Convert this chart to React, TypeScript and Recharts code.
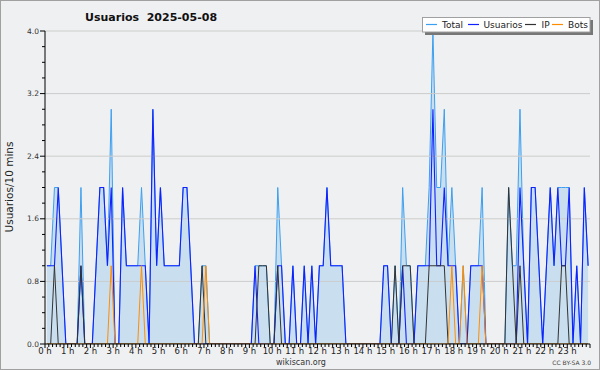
import React from "react";
import { ComposedChart, Area, Line, XAxis, YAxis, ReferenceLine } from "recharts";

// 10-minute slots, 144 per day
const total = [
  1,1,2,2,1,0,0,0,0,2, 0,0,0,1,2,2,1,3,0,0, 2,1,1,1,1,2,1,0,3,1, 2,1,1,1,1,1,2,2,1,0,
  0,1,1,0,0,0,0,0,0,0, 0,0,0,0,0,1,1,1,1,0, 0,2,1,0,0,1,0,0,1,0, 1,0,1,1,2,1,1,1,1,0,
  0,0,0,0,0,0,0,0,0,1, 1,0,1,0,2,1,1,0,1,1, 1,2,4,2,2,3,1,2,1,0, 1,0,1,1,1,2,0,0,0,0,
  0,0,2,1,1,3,1,0,2,2, 1,0,1,2,1,2,2,2,2,0, 1,0,2,1,
];
const usuarios = [
  1,1,1,2,1,0,0,0,0,1, 0,0,0,1,2,2,1,2,0,0, 2,1,1,1,1,1,1,0,3,1, 2,1,1,1,1,1,2,2,1,0,
  0,0,0,0,0,0,0,0,0,0, 0,0,0,0,0,1,0,0,0,0, 0,1,1,0,0,1,0,0,1,0, 1,0,1,1,2,1,1,1,1,0,
  0,0,0,0,0,0,0,0,0,1, 1,0,0,0,1,0,0,0,1,1, 1,1,3,1,1,2,1,1,1,0, 0,0,1,1,1,1,0,0,0,0,
  0,0,0,0,0,2,1,0,2,2, 1,0,1,2,1,2,1,1,2,0, 1,0,2,1,
];
const ip = [
  0,0,1,0,0,0,0,0,0,1, 0,0,0,0,0,0,0,0,0,0, 0,0,0,0,0,0,0,0,0,0, 0,0,0,0,0,0,0,0,0,0,
  0,1,0,0,0,0,0,0,0,0, 0,0,0,0,0,0,1,1,1,0, 0,1,0,0,0,0,0,0,0,0, 0,0,0,0,0,0,0,0,0,0,
  0,0,0,0,0,0,0,0,0,0, 0,0,1,0,1,1,1,0,0,0, 0,1,1,1,1,1,0,0,0,0, 0,0,0,0,0,0,0,0,0,0,
  0,0,2,1,0,1,0,0,0,0, 0,0,0,0,0,0,1,1,0,0, 0,0,0,0,
];
const bots = [
  0,0,0,0,0,0,0,0,0,0, 0,0,0,0,0,0,0,1,0,0, 0,0,0,0,0,1,0,0,0,0, 0,0,0,0,0,0,0,0,0,0,
  0,0,1,0,0,0,0,0,0,0, 0,0,0,0,0,0,0,0,0,0, 0,0,0,0,0,0,0,0,0,0, 0,0,0,0,0,0,0,0,0,0,
  0,0,0,0,0,0,0,0,0,0, 0,0,0,0,0,0,0,0,0,0, 0,0,0,0,0,0,0,1,0,0, 1,0,0,0,0,1,0,0,0,0,
  0,0,0,0,0,0,0,0,0,0, 0,0,0,0,0,0,0,0,0,0, 0,0,0,0,
];

const hourLabels = [
  "0 h","1 h","2 h","3 h","4 h","5 h","6 h","7 h","8 h","9 h","10 h","11 h",
  "12 h","13 h","14 h","15 h","16 h","17 h","18 h","19 h","20 h","21 h","22 h","23 h",
];
const yGridValues = [0.8, 1.6, 2.4, 3.2, 4.0];
const yTickLabels = ["0.0", "0.8", "1.6", "2.4", "3.2", "4.0"];

const rows = total.map((t, i) => ({
  x: i + 0.5,
  total: t,
  usuarios: usuarios[i],
  ip: ip[i],
  bots: bots[i],
}));

const xTicks = Array.from({ length: 145 }, (_, i) => i);
const yTicks = Array.from({ length: 21 }, (_, i) => i / 5);

const FONT = "DejaVu Sans";

const XTick = (props: any) => {
  const { x, y, payload } = props;
  const v = Math.round(payload.value);
  const isHour = v % 6 === 0;
  const h = v / 6;
  return (
    <g>
      <line x1={x} x2={x} y1={y} y2={y + (isHour ? 4 : 3)} stroke="#000" strokeWidth={1} />
      {isHour && h < 24 ? (
        <text x={x} y={y + 10} textAnchor="middle" fontSize={8.5} fontFamily={FONT} fill="#222">
          {hourLabels[h]}
        </text>
      ) : null}
    </g>
  );
};

const YTick = (props: any) => {
  const { x, y, payload } = props;
  const k = Math.round(payload.value * 5);
  const major = k % 4 === 0;
  return (
    <g>
      <line x1={x - (major ? 5 : 3)} x2={x} y1={y} y2={y} stroke="#000" strokeWidth={1} />
      {major ? (
        <text x={x - 6} y={y + 2.5} textAnchor="end" fontSize={7.5} fontFamily={FONT} fill="#333">
          {yTickLabels[k / 4]}
        </text>
      ) : null}
    </g>
  );
};

const legendItems = [
  { name: "Total", color: "#3d9ff0", lx: 426, tx: 442 },
  { name: "Usuarios", color: "#1020ff", lx: 468, tx: 483.5 },
  { name: "IP", color: "#333333", lx: 525, tx: 541.5 },
  { name: "Bots", color: "#ff8c00", lx: 552, tx: 568 },
];

export default function App() {
  return (
    <div style={{ position: "absolute", left: 0, top: 0, width: 600, height: 370, background: "#eff0f1" }}>
      <div style={{ position: "absolute", left: 0, top: 0 }}>
        <ComposedChart
          width={600}
          height={370}
          data={rows}
          margin={{ top: 31, right: 10, bottom: 6, left: 25 }}
        >
          {yGridValues.map((v) => (
            <ReferenceLine key={v} y={v} stroke="#cccccc" strokeWidth={1} />
          ))}
          <XAxis
            dataKey="x"
            type="number"
            domain={[0, 144]}
            ticks={xTicks}
            interval={0}
            height={20}
            tickSize={0}
            tickMargin={0}
            tick={XTick}
            tickLine={false}
            axisLine={{ stroke: "#000" }}
            allowDataOverflow
          />
          <YAxis
            type="number"
            domain={[0, 4]}
            ticks={yTicks}
            interval={0}
            width={20}
            tickSize={0}
            tickMargin={0}
            tick={YTick}
            tickLine={false}
            axisLine={{ stroke: "#000" }}
            allowDataOverflow
          />
          <Area
            type="linear"
            dataKey="total"
            stroke="#3d9ff0"
            strokeWidth={1}
            fill="#c5ddf0"
            fillOpacity={0.92}
            dot={false}
            activeDot={false}
            isAnimationActive={false}
          />
          <Line type="linear" dataKey="usuarios" stroke="#1020ff" strokeWidth={1.1} dot={false} activeDot={false} isAnimationActive={false} />
          <Line type="linear" dataKey="ip" stroke="#333333" strokeWidth={1} dot={false} activeDot={false} isAnimationActive={false} />
          <Line type="linear" dataKey="bots" stroke="#ff8c00" strokeWidth={1} dot={false} activeDot={false} isAnimationActive={false} />
        </ComposedChart>
      </div>
      <svg
        width={600}
        height={370}
        style={{ position: "absolute", left: 0, top: 0, pointerEvents: "none" }}
      >
        <rect x={0.5} y={0.5} width={599} height={369} fill="none" stroke="#a0a0a0" />
        <text x={85} y={21} fontFamily={FONT} fontWeight="bold" fontSize={11} fill="#111" style={{ whiteSpace: "pre" }}>
          {"Usuarios  2025-05-08"}
        </text>
        <text
          transform="translate(13,187) rotate(-90)"
          textAnchor="middle"
          fontFamily={FONT}
          fontSize={10.5}
          fill="#222"
        >
          Usuarios/10 mins
        </text>
        <text x={301} y={365} textAnchor="middle" fontFamily={FONT} fontSize={8} fill="#333">
          wikiscan.org
        </text>
        <text x={591} y={365} textAnchor="end" fontFamily={FONT} fontSize={6} fill="#444">
          CC BY-SA 3.0
        </text>
        <rect x={425} y={20} width={168} height={15} fill="#777777" />
        <rect x={422.5} y={17.5} width={167.5} height={14.5} fill="#ffffff" stroke="#a0a0a0" />
        {legendItems.map((it) => (
          <g key={it.name}>
            <line x1={it.lx} x2={it.lx + 11} y1={24.5} y2={24.5} stroke={it.color} strokeWidth={1.2} />
            <text x={it.tx} y={28.3} fontFamily={FONT} fontSize={9} fill="#222">
              {it.name}
            </text>
          </g>
        ))}
      </svg>
    </div>
  );
}
